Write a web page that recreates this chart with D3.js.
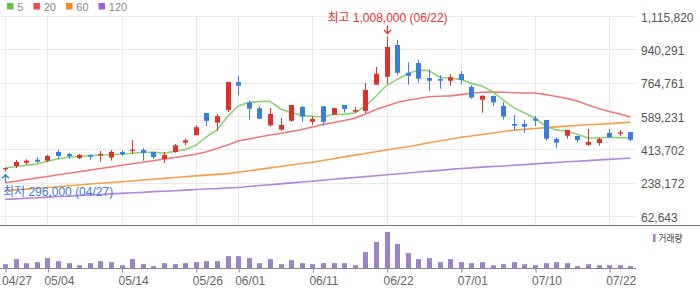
<!DOCTYPE html>
<html>
<head>
<meta charset="utf-8">
<script src="https://cdn.jsdelivr.net/npm/d3@7"></script>
<style>
body { margin: 0; background: #fff; }
svg { display: block; font-family: "Liberation Sans", "Noto Sans CJK KR", sans-serif; }
</style>
</head>
<body>
<div id="chart"></div>
<script>
var dates = ['04/27','04/28','04/29','04/30','05/04','05/06','05/07','05/08','05/11','05/12',
    '05/13','05/14','05/15','05/18','05/19','05/20','05/21','05/22','05/26','05/27',
    '05/28','05/29','06/01','06/02','06/03','06/04','06/05','06/08','06/09','06/11',
    '06/12','06/15','06/16','06/17','06/18','06/19','06/22','06/23','06/24','06/25',
    '06/26','06/29','06/30','07/01','07/02','07/03','07/06','07/07','07/08','07/09',
    '07/10','07/13','07/14','07/15','07/16','07/17','07/21','07/22','07/23','07/24'];

// prices in thousand won
var opens = [310,326,343,359,354,400,389,368,385,382,370,400,407,410,400,363,400,449,489,605,
    554,621,768,659,630,540,517,564,637,559,640,596,647,612,616,754,796,963,817,868,
    789,784,775,810,742,675,695,642,547,547,575,568,468,485,484,437,447,500,496,505];
var highs = [317,358,361,373,385,412,394,389,386,405,410,407,463,421,401,400,442,470,540,606,
    600,770,800,670,640,631,579,648,642,589,641,632,648,638,763,847,1008,989,872,884,
    835,804,810,826,752,698,696,663,594,568,589,569,477,517,485,521,475,521,516,506];
var lows = [296,315,333,342,347,361,363,363,359,349,354,380,389,354,363,342,396,435,488,537,
    512,610,698,570,572,533,512,559,559,543,538,595,607,605,605,753,759,804,754,765,
    722,733,749,756,680,607,643,570,514,501,537,459,422,470,449,433,433,477,484,458];
var closes = [315,347,354,349,379,379,377,384,375,389,400,388,412,394,373,384,435,461,530,564,
    589,768,749,628,575,600,542,647,586,573,559,631,626,621,726,812,953,817,801,786,
    775,775,793,779,686,695,661,586,538,533,564,470,449,516,463,452,468,477,503,464];

var ma5 = [317,322,330,336,351,364,372,377,380,384,385,388,393,398,398,394,403,412,435,479,
    516,586,642,661,665,667,626,607,593,588,584,598,598,605,642,693,751,782,812,831,
    828,793,788,782,761,747,717,673,633,605,579,535,516,509,493,473,473,477,475,475];
var ma20 = [238,246,255,263,271,280,288,296,304,313,321,330,338,346,354,363,371,379,388,401,
    418,437,458,468,479,489,497,508,518,531,544,555,566,577,600,623,642,660,672,681,
    691,693,695,702,709,714,716,714,712,710,710,702,692,682,668,647,629,613,600,584];
var ma60 = [196,200,204,209,213,217,222,226,231,235,239,243,247,252,256,261,265,269,274,278,
    282,286,293,301,308,316,323,331,339,346,355,364,374,383,392,401,410,419,427,438,
    448,458,467,477,484,492,500,508,514,519,523,528,532,536,539,543,546,549,553,556];
var ma120 = [151,153,156,159,162,165,167,171,173,176,179,182,185,187,191,193,196,199,202,205,
    207,211,213,218,223,227,232,237,242,246,251,256,261,265,270,275,280,284,289,294,
    299,303,308,313,316,320,323,326,330,333,337,341,344,348,351,354,358,361,364,368];

// thousand shares
var volumes = [43,93,53,63,103,73,53,33,53,73,63,33,93,43,23,53,43,53,63,73,
    73,123,123,103,53,93,43,83,53,43,53,53,53,33,163,263,363,243,153,93,
    103,63,93,63,53,63,33,43,63,43,33,53,63,53,23,43,33,33,33,23];

var priceTicks = [62643, 238172, 413702, 589231, 764761, 940291, 1115820];
var dateTicks = ['04/27','05/04','05/14','05/26','06/01','06/11','06/22','07/01','07/10','07/22'];
var maLabels = ['5', '20', '60', '120'];
var maColors = ['#62bf47', '#ee4a4a', '#f5891f', '#a063cf'];
var maLineColors = ['#7fcd6a', '#f0696b', '#f7932f', '#ab78d6'];

var upColor = '#e0302a';
var downColor = '#3a7ce0';

var svg = d3.select('#chart').append('svg')
    .attr('width', 700)
    .attr('height', 289);

var x = d3.scalePoint().domain(dates).range([5, 630.4]);
var y = d3.scaleLinear().domain([62643, 1115820]).range([216, 16]);
var yVol = d3.scaleLinear().domain([0, d3.max(volumes)]).range([268.5, 232]);

function px(d) { return Math.round(x(d)); }
function py(v) { return y(v * 1000); }

// grid
var grid = svg.append('g').attr('class', 'grid');
grid.selectAll('line.h')
    .data(priceTicks)
    .enter()
    .append('line')
    .attr('class', 'h')
    .attr('x1', 0).attr('x2', 636)
    .attr('y1', function(d) { return Math.round(y(d)) + 0.5; })
    .attr('y2', function(d) { return Math.round(y(d)) + 0.5; })
    .style('stroke', '#ebebeb');
grid.selectAll('line.v')
    .data(dateTicks)
    .enter()
    .append('line')
    .attr('class', 'v')
    .attr('x1', function(d) { return px(d) + 0.5; })
    .attr('x2', function(d) { return px(d) + 0.5; })
    .attr('y1', 16).attr('y2', 225)
    .style('stroke', '#ebebeb');

// price axis on the right
var yAxis = svg.append('g')
    .attr('transform', 'translate(636,0)')
    .call(d3.axisRight(y).tickValues(priceTicks).tickFormat(d3.format(',')).tickSize(0).tickPadding(5));
yAxis.select('.domain').remove();
yAxis.selectAll('text')
    .attr('dy', '0.42em')
    .style('font-size', '12px')
    .style('fill', '#555')
    .style('font-family', '"Liberation Sans", sans-serif');

// moving averages
var line = d3.line()
    .x(function(d, i) { return x(dates[i]); })
    .y(function(d) { return py(d); });

[ma120, ma60, ma20, ma5].forEach(function(series, k) {
    var idx = 3 - k;
    svg.append('path')
        .datum(series)
        .attr('d', line)
        .style('fill', 'none')
        .style('stroke', maLineColors[idx])
        .style('stroke-width', 1.6)
        .style('stroke-opacity', 0.9);
});

// candles
var candles = svg.append('g')
    .selectAll('g')
    .data(dates)
    .enter()
    .append('g')
    .attr('fill', function(d, i) { return closes[i] >= opens[i] ? upColor : downColor; })
    .attr('stroke', function(d, i) { return closes[i] >= opens[i] ? upColor : downColor; });

candles.append('line')
    .attr('x1', function(d) { return px(d) + 0.5; })
    .attr('x2', function(d) { return px(d) + 0.5; })
    .attr('y1', function(d, i) { return py(highs[i]); })
    .attr('y2', function(d, i) { return py(lows[i]); })
    .style('stroke-width', 1);

candles.append('rect')
    .attr('x', function(d) { return px(d) - 2; })
    .attr('width', 5)
    .attr('y', function(d, i) { return py(Math.max(opens[i], closes[i])); })
    .attr('height', function(d, i) { return Math.max(1.2, Math.abs(py(opens[i]) - py(closes[i]))); })
    .style('stroke', 'none');

// high / low markers
var hiIdx = d3.maxIndex(highs);
var loIdx = d3.minIndex(lows);
var fmt = d3.format(',');

var hx = px(dates[hiIdx]) + 0.5;
var hy = py(highs[hiIdx]);
svg.append('path')
    .attr('d', 'M' + hx + ',' + (hy - 11) + 'L' + hx + ',' + (hy - 3) +
        'M' + (hx - 3.5) + ',' + (hy - 6.5) + 'L' + hx + ',' + (hy - 3) + 'L' + (hx + 3.5) + ',' + (hy - 6.5))
    .style('fill', 'none')
    .style('stroke', '#e8322f')
    .style('stroke-width', 1.3);
svg.append('text')
    .attr('x', hx)
    .attr('y', hy - 14)
    .attr('text-anchor', 'middle')
    .style('font-size', '12px')
    .style('fill', '#e8322f')
    .text('최고 ' + fmt(highs[hiIdx] * 1000) + ' (' + dates[hiIdx] + ')');

var lx = px(dates[loIdx]) + 0.5;
var ly = py(lows[loIdx]);
svg.append('path')
    .attr('d', 'M' + lx + ',' + (ly + 11) + 'L' + lx + ',' + (ly + 3) +
        'M' + (lx - 3.5) + ',' + (ly + 6.5) + 'L' + lx + ',' + (ly + 3) + 'L' + (lx + 3.5) + ',' + (ly + 6.5))
    .style('fill', 'none')
    .style('stroke', '#3a7ce0')
    .style('stroke-width', 1.3);
svg.append('text')
    .attr('x', 3)
    .attr('y', ly + 24)
    .style('font-size', '12px')
    .style('fill', '#3a7ce0')
    .text('최저 ' + fmt(lows[loIdx] * 1000) + ' (' + dates[loIdx] + ')');

// separator between panels
svg.append('line')
    .attr('x1', 0).attr('x2', 700)
    .attr('y1', 225.5).attr('y2', 225.5)
    .style('stroke', '#7a7a7a');

// volume bars
svg.append('g')
    .selectAll('rect')
    .data(volumes)
    .enter()
    .append('rect')
    .attr('x', function(d, i) { return px(dates[i]) - 2; })
    .attr('width', 5)
    .attr('y', function(d) { return yVol(d); })
    .attr('height', function(d) { return yVol(0) - yVol(d); })
    .style('fill', '#9b84c6');

// date axis
var xAxis = svg.append('g')
    .attr('transform', 'translate(0,268.5)')
    .call(d3.axisBottom(x).tickValues(dateTicks).tickSize(4).tickPadding(4));
xAxis.select('.domain').remove();
xAxis.selectAll('line')
    .attr('transform', 'translate(0.5,0)')
    .style('stroke', '#888');
xAxis.selectAll('text')
    .attr('text-anchor', 'start')
    .attr('x', -3.5)
    .style('font-size', '12px')
    .style('fill', '#666')
    .style('font-family', '"Liberation Sans", sans-serif');
svg.append('line')
    .attr('x1', 0).attr('x2', 636)
    .attr('y1', 268.5).attr('y2', 268.5)
    .style('stroke', '#888');

// legend
var cursor = 7;
var legend = svg.append('g');
maLabels.forEach(function(label, i) {
    legend.append('rect')
        .attr('x', cursor).attr('y', 3)
        .attr('width', 6.5).attr('height', 6.5)
        .style('fill', maColors[i]);
    var t = legend.append('text')
        .attr('x', cursor + 10.3)
        .attr('y', 10.5)
        .style('font-size', '11px')
        .style('fill', '#888')
        .text(label);
    cursor = cursor + 10.3 + t.node().getComputedTextLength() + 10;
});

svg.append('rect')
    .attr('x', 653).attr('y', 234)
    .attr('width', 2.5).attr('height', 8)
    .style('fill', '#9b84c6');
svg.append('text')
    .attr('x', 658.5)
    .attr('y', 242)
    .attr('textLength', 24)
    .attr('lengthAdjust', 'spacingAndGlyphs')
    .style('font-size', '10px')
    .style('fill', '#444')
    .text('거래량');
</script>
</body>
</html>
